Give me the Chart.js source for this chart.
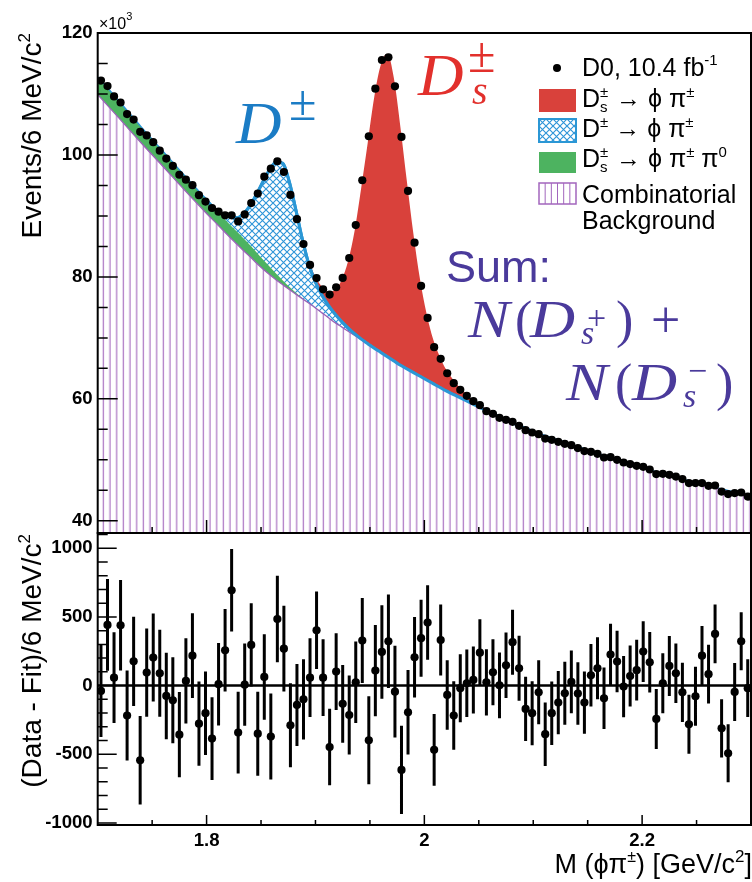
<!DOCTYPE html>
<html>
<head>
<meta charset="utf-8">
<title>M(φπ±) spectrum, D0 10.4 fb-1</title>
<script src="https://cdn.jsdelivr.net/npm/chart.js@4.4.1/dist/chart.umd.min.js"></script>
<style>
  html, body { margin: 0; padding: 0; background: #ffffff; }
  #stage { position: relative; width: 752px; height: 882px; overflow: hidden; }
  #stage canvas { position: absolute; left: 0; top: 0; }
</style>
</head>
<body>
<div id="stage">
  <canvas id="residCanvas" width="752" height="882"></canvas>
  <canvas id="massCanvas" width="752" height="882"></canvas>
</div>
<script>
// ---------------------------------------------------------------------------
// Histogram: bin centres of M(phi pi) in GeV/c^2 (6 MeV bins)
const massBins = [
  1.703,1.709,1.715,1.721,1.727,1.733,1.739,1.745,1.751,1.757,
  1.763,1.769,1.775,1.781,1.787,1.793,1.799,1.805,1.811,1.817,
  1.823,1.829,1.835,1.841,1.847,1.853,1.859,1.865,1.871,1.877,
  1.883,1.889,1.895,1.901,1.907,1.913,1.919,1.925,1.931,1.937,
  1.943,1.949,1.955,1.961,1.967,1.973,1.979,1.985,1.991,1.997,
  2.003,2.009,2.015,2.021,2.027,2.033,2.039,2.045,2.051,2.057,
  2.063,2.069,2.075,2.081,2.087,2.093,2.099,2.105,2.111,2.117,
  2.123,2.129,2.135,2.141,2.147,2.153,2.159,2.165,2.171,2.177,
  2.183,2.189,2.195,2.201,2.207,2.213,2.219,2.225,2.231,2.237,
  2.243,2.249,2.255,2.261,2.267,2.273,2.279,2.285,2.291,2.297
];

// Events per 6 MeV/c^2, in units of 10^3
const eventsK = [
  112.2,111.3,109.6,108.6,106.7,105.8,103.8,103.2,102.1,100.7,
  99.4,98.2,96.75,95.95,95.05,93.4,92.35,91.3,90.7,90.1,
  90.1,89.1,90.25,92.1,93.66,96.44,97.75,98.97,97.2,93.44,
  89.46,85.4,81.97,79.8,77.97,77.1,78.3,79.84,83.1,88.5,
  95.85,103.07,110.87,115.57,116.02,111.26,102.95,94.1,85.62,78.52,
  73.28,68.48,66.56,64.2,62.57,61.48,60.5,59.62,58.97,57.98,
  57.54,56.89,56.56,56.23,55.57,54.87,54.48,54.21,53.49,53.28,
  52.95,52.62,52.41,51.92,51.43,51.31,50.98,50.38,50.44,50.0,
  49.56,49.3,49.02,48.85,48.41,47.66,47.7,47.54,47.26,46.84,
  46.18,46.18,46.18,45.74,45.79,44.8,44.38,44.54,44.64,43.98
];

// Data - Fit per bin (events per 6 MeV/c^2)
const residuals = [
  -39,442,58,439,-218,177,-544,95,204,90,
  -75,-107,-357,34,218,-277,-201,-386,10,257,
  694,-342,7,296,-350,63,-371,485,269,-289,
  -141,-100,58,403,58,-447,102,-133,-214,24,
  328,-398,109,245,323,-44,-614,-194,206,345,
  459,-468,332,-68,-218,-19,17,41,240,24,
  97,2,148,316,126,-170,-201,-49,-354,-201,
  -124,-56,27,-58,-124,75,126,-92,226,175,
  -7,70,112,248,170,-243,17,143,90,-49,
  -282,-78,218,83,376,-311,-493,-46,323,-19
];

// Statistical uncertainty of each residual
const residualErrors = [
  335,334,331,330,327,325,322,321,320,317,
  315,313,311,310,308,306,304,302,301,300,
  300,298,300,303,306,311,313,315,312,306,
  299,292,286,282,279,278,280,283,288,297,
  310,321,333,340,341,334,321,307,293,280,
  271,262,258,253,250,248,246,244,243,241,
  240,239,238,237,236,234,233,233,231,231,
  230,229,229,228,227,227,226,224,225,224,
  223,222,221,221,220,218,218,218,217,216,
  215,215,215,214,214,212,211,211,211,210
];

// ---------------------------------------------------------------------------
// Fit components sampled along the mass axis (units of 10^3 events / 6 MeV)
const fitMass = [
  1.700,1.720,1.740,1.760,1.780,1.800,1.810,1.820,1.828,1.834,
  1.840,1.846,1.852,1.858,1.864,1.870,1.876,1.882,1.888,1.894,
  1.900,1.906,1.912,1.918,1.924,1.930,1.936,1.942,1.948,1.954,
  1.960,1.966,1.972,1.978,1.984,1.990,1.996,2.002,2.008,2.014,
  2.020,2.028,2.036,2.046,2.060,2.075,2.100,2.125,2.150,2.175,
  2.200,2.225,2.250,2.275,2.300
];
const combBkg = [
  109.9,105.95,101.95,98.1,94.2,90.4,88.6,86.75,85.35,84.3,
  83.3,82.25,81.25,80.35,79.5,78.72,77.93,77.15,76.43,75.67,
  74.9,74.1,73.3,72.5,71.8,71.1,70.4,69.7,69.0,68.3,
  67.6,66.9,66.2,65.5,64.9,64.3,63.7,63.1,62.5,61.9,
  61.3,60.6,59.9,59.0,57.8,56.5,54.6,53.0,51.5,50.0,
  48.6,47.3,46.1,45.0,43.9
];
const dsPhiPiPi0 = [
  2.8,2.6,2.45,2.3,2.2,2.15,2.1,2.1,2.05,2.0,
  1.9,1.75,1.55,1.3,1.0,0.7,0.45,0.25,0.12,0.05,
  0.02,0,0,0,0,0,0,0,0,0,
  0,0,0,0,0,0,0,0,0,0,
  0,0,0,0,0,0,0,0,0,0,
  0,0,0,0,0
];
const dPhiPi = [
  0,0,0,0,0,0,0.05,1.05,2.3,4.1,
  6.5,9.6,12.9,15.95,18.35,19.2,17.2,13.6,9.6,6.3,
  4.2,2.9,2.0,1.4,0.9,0.5,0.25,0.1,0.05,0,
  0,0,0,0,0,0,0,0,0,0,
  0,0,0,0,0,0,0,0,0,0,
  0,0,0,0,0
];
const dsPhiPi = [
  0,0,0,0,0,0,0,0,0,0,
  0,0,0,0,0.05,0.05,0.1,0.2,0.35,0.6,
  0.9,1.4,2.3,3.9,6.8,11.0,16.95,24.8,32.95,41.2,
  47.2,49.7,46.4,39.1,30.7,22.7,15.9,10.9,7.3,5.1,
  3.5,2.2,1.3,0.6,0.3,0.15,0.05,0,0,0,
  0,0,0,0,0
];

// Axis tick labels
const massTicks = [40, 60, 80, 100, 120];
const residTicks = [-1000, -500, 0, 500, 1000];
const xLabelTicks = [1.8, 2.0, 2.2];

// ---------------------------------------------------------------------------
const SANS = '"Liberation Sans", Arial, Helvetica, sans-serif';
const SERIF = '"Liberation Serif", "Times New Roman", serif';
const COL = {
  ds: '#d9413b', dHatch: '#2f95d8', dLine: '#2b97d5', pi0: '#4db360',
  comb: '#a266bd', combLine: '#9c62b8', dsText: '#e2302c', dText: '#1b7cc5', sum: '#4a3a9b'
};
const TICK_FONT = { family: SANS, size: 18.6, weight: 'bold' };

// stacked upper edges of the fit components
function stackEdge(...parts) {
  return fitMass.map((m, i) => ({ x: m, y: parts.reduce((s, p) => s + p[i], 0) }));
}
const edgeComb = stackEdge(combBkg);
const edgePi0 = stackEdge(combBkg, dsPhiPiPi0);
const edgeD = stackEdge(combBkg, dsPhiPiPi0, dPhiPi);
const edgeTotal = stackEdge(combBkg, dsPhiPiPi0, dPhiPi, dsPhiPi);
// the D outline sits above the other bands from the D onset onwards
const edgeDUpper = edgeD.filter(p => p.x >= 1.8 && p.x <= 2.1);

// fill patterns
function crossHatch(ctx) {
  const t = document.createElement('canvas'); t.width = 7; t.height = 7;
  const g = t.getContext('2d');
  g.fillStyle = '#ffffff'; g.fillRect(0, 0, 7, 7);
  g.strokeStyle = COL.dHatch; g.lineWidth = 1.15;
  g.beginPath(); g.moveTo(-1, -1); g.lineTo(8, 8); g.moveTo(8, -1); g.lineTo(-1, 8); g.stroke();
  return ctx.createPattern(t, 'repeat');
}
function verticalHatch(ctx) {
  const t = document.createElement('canvas'); t.width = 20; t.height = 4;
  const g = t.getContext('2d');
  g.fillStyle = '#ffffff'; g.fillRect(0, 0, 20, 4);
  g.fillStyle = COL.comb;
  [0, 6.67, 13.33].forEach(x => g.fillRect(x, 0, 1.1, 4));
  const p = ctx.createPattern(t, 'repeat');
  if (p.setTransform) p.setTransform(new DOMMatrix([1, 0, 0, 1, 2.7, 0]));
  return p;
}

// text made of pieces with their own font and vertical shift
function drawRich(ctx, parts, x, y, align, color) {
  ctx.textAlign = 'left'; ctx.textBaseline = 'alphabetic';
  const w = parts.map(p => { ctx.font = p.f; return p.adv !== undefined ? p.adv : ctx.measureText(p.t).width; });
  const total = w.reduce((a, b) => a + b, 0);
  let cx = align === 'right' ? x - total : x;
  ctx.fillStyle = color || '#000';
  parts.forEach((p, i) => { ctx.font = p.f; ctx.fillText(p.t, cx, y + (p.dy || 0)); cx += w[i]; });
}
function text(ctx, t, x, y, f, color, sx) {
  ctx.save();
  ctx.font = f; ctx.fillStyle = color; ctx.textAlign = 'left'; ctx.textBaseline = 'alphabetic';
  ctx.translate(x, y); ctx.scale(sx || 1, 1);
  ctx.fillText(t, 0, 0);
  ctx.restore();
}

function drawInsideTicks(ctx, a, xs, ys, yMajor, yMinor, xMajorLen, xMinorLen) {
  ctx.strokeStyle = '#000'; ctx.lineWidth = 1.5; ctx.beginPath();
  ys.list.forEach(v => {
    const py = ys.scale.getPixelForValue(v);
    const len = ys.isMajor(v) ? yMajor : yMinor;
    ctx.moveTo(a.left, py); ctx.lineTo(a.left + len, py);
  });
  for (let k = 35; k <= 45; k++) {
    const v = k / 20;
    const px = xs.getPixelForValue(v);
    const len = (k % 4 === 0) ? xMajorLen : xMinorLen;
    ctx.moveTo(px, a.bottom); ctx.lineTo(px, a.bottom - len);
  }
  ctx.stroke();
}

// ---------------------------------------------------------------------------
const massCanvas = document.getElementById('massCanvas');
const mctx = massCanvas.getContext('2d');

const massDecor = {
  id: 'massDecor',
  afterDraw(chart) {
    const { ctx, chartArea: a, scales: { x, y } } = chart;
    ctx.save();
    const yl = []; for (let v = 40; v <= 120; v += 5) yl.push(v);
    drawInsideTicks(ctx, a, x, { scale: y, list: yl, isMajor: v => v % 20 === 0 }, 20, 10, 13, 6);
    ctx.lineWidth = 2; ctx.strokeStyle = '#000';
    ctx.strokeRect(a.left, a.top, a.right - a.left, a.bottom - a.top);

    // axis multiplier and title
    drawRich(ctx, [{ t: '×10', f: `16px ${SANS}` }, { t: '3', f: `11px ${SANS}`, dy: -9 }], 99, 29, 'left');
    ctx.save(); ctx.translate(41, a.top); ctx.rotate(-Math.PI / 2);
    drawRich(ctx, [{ t: 'Events/6 MeV/c', f: `28px ${SANS}` }, { t: '2', f: `17px ${SANS}`, dy: -11 }], 0, 0, 'right');
    ctx.restore();

    // peak labels
    text(ctx, 'D', 236, 143, `italic 60px ${SERIF}`, COL.dText, 1.05);
    text(ctx, '±', 289, 120, `50px ${SERIF}`, COL.dText);
    text(ctx, 'D', 418, 95, `italic 60px ${SERIF}`, COL.dsText, 1.05);
    text(ctx, '±', 468, 72, `50px ${SERIF}`, COL.dsText);
    text(ctx, 's', 472, 104, `italic 40px ${SERIF}`, COL.dsText);

    text(ctx, 'Sum:', 446, 282, `45px ${SANS}`, COL.sum);
    const MI = `italic 52px ${SERIF}`, MR = `52px ${SERIF}`, SI = `italic 34px ${SERIF}`, SR = `34px ${SERIF}`;
    text(ctx, 'N', 468, 337, MI, COL.sum, 1.2);
    text(ctx, '(', 515, 337, MR, COL.sum);
    text(ctx, 'D', 530, 337, MI, COL.sum, 1.2);
    text(ctx, '+', 587, 329, SR, COL.sum);
    text(ctx, 's', 581, 344, SI, COL.sum);
    text(ctx, ')', 616, 337, MR, COL.sum);
    text(ctx, '+', 651, 337, MR, COL.sum);
    text(ctx, 'N', 566, 400, MI, COL.sum, 1.2);
    text(ctx, '(', 615, 400, MR, COL.sum);
    text(ctx, 'D', 632, 400, MI, COL.sum, 1.2);
    text(ctx, '−', 688, 382, SR, COL.sum);
    text(ctx, 's', 683, 407, SI, COL.sum);
    text(ctx, ')', 716, 400, MR, COL.sum);

    // legend
    const F = `25px ${SANS}`, FS = `15px ${SANS}`;
    const tx = 582;
    ctx.fillStyle = '#000';
    ctx.beginPath(); ctx.arc(557, 68, 4, 0, Math.PI * 2); ctx.fill();
    drawRich(ctx, [{ t: 'D0, 10.4 fb', f: F }, { t: '-1', f: FS, dy: -11 }], tx, 76, 'left');

    ctx.fillStyle = COL.ds; ctx.fillRect(539, 89, 37, 23);
    drawRich(ctx, [{ t: 'D', f: F }, { t: '±', f: FS, dy: -10, adv: 0 }, { t: 's', f: FS, dy: 5, adv: 9 },
      { t: ' → ϕ π', f: F }, { t: '±', f: FS, dy: -10 }], tx, 107, 'left');

    ctx.fillStyle = crossHatch(ctx); ctx.fillRect(539, 119, 37, 23);
    ctx.strokeStyle = COL.dLine; ctx.lineWidth = 2; ctx.strokeRect(539, 119, 37, 23);
    drawRich(ctx, [{ t: 'D', f: F }, { t: '±', f: FS, dy: -10 }, { t: ' → ϕ π', f: F }, { t: '±', f: FS, dy: -10 }], tx, 137, 'left');

    ctx.fillStyle = COL.pi0; ctx.fillRect(539, 152, 37, 21);
    drawRich(ctx, [{ t: 'D', f: F }, { t: '±', f: FS, dy: -10, adv: 0 }, { t: 's', f: FS, dy: 5, adv: 9 },
      { t: ' → ϕ π', f: F }, { t: '±', f: FS, dy: -10 }, { t: ' π', f: F }, { t: '0', f: FS, dy: -10 }], tx, 167, 'left');

    ctx.fillStyle = '#fff'; ctx.fillRect(539, 183, 37, 21);
    ctx.strokeStyle = COL.comb; ctx.lineWidth = 1;
    ctx.beginPath();
    for (let k = 1; k < 6; k++) { const lx = 539 + k * 6.17; ctx.moveTo(lx, 183); ctx.lineTo(lx, 204); }
    ctx.stroke();
    ctx.lineWidth = 1.5; ctx.strokeRect(539, 183, 37, 21);
    text(ctx, 'Combinatorial', tx, 203, F, '#000');
    text(ctx, 'Background', tx, 229, F, '#000');
    ctx.restore();
  }
};

const clear = 'rgba(0,0,0,0)';
const curve = { pointRadius: 0, cubicInterpolationMode: 'monotone' };

// drawing order: larger "order" is painted first
new Chart(massCanvas, {
  type: 'line',
  data: {
    datasets: [
      { label: 'D0, 10.4 fb-1', data: massBins.map((m, i) => ({ x: m, y: eventsK[i] })),
        showLine: false, pointRadius: 4.1, pointBackgroundColor: '#000', pointBorderWidth: 0, order: 0 },
      Object.assign({ label: 'D outline (upper)', data: edgeDUpper, fill: false, borderColor: COL.dLine, borderWidth: 3, order: 1 }, curve),
      Object.assign({ label: 'Combinatorial Background', data: edgeComb, fill: 'start', backgroundColor: verticalHatch(mctx),
        borderColor: COL.combLine, borderWidth: 1.3, order: 2 }, curve),
      Object.assign({ label: 'Ds -> phi pi pi0', data: edgePi0, fill: 'start', backgroundColor: COL.pi0,
        borderColor: clear, borderWidth: 1, order: 3 }, curve),
      Object.assign({ label: 'D outline', data: edgeD, fill: false, borderColor: COL.dLine, borderWidth: 3, order: 4 }, curve),
      Object.assign({ label: 'D -> phi pi', data: edgeD, fill: 'start', backgroundColor: crossHatch(mctx),
        borderColor: clear, borderWidth: 1, order: 5 }, curve),
      Object.assign({ label: 'Ds -> phi pi', data: edgeTotal, fill: 'start', backgroundColor: COL.ds,
        borderColor: clear, borderWidth: 1, order: 6 }, curve)
    ]
  },
  options: {
    responsive: false, animation: false, devicePixelRatio: 1, events: [],
    layout: { autoPadding: false, padding: { left: 0, right: 1, top: 33, bottom: 349 } },
    plugins: { legend: { display: false }, tooltip: { enabled: false }, filler: { propagate: false } },
    scales: {
      x: { type: 'linear', min: 1.7, max: 2.3, display: false },
      y: {
        type: 'linear', min: 38, max: 120,
        afterFit: s => { s.width = 97.7; },
        afterBuildTicks: s => { s.ticks = massTicks.map(v => ({ value: v })); },
        grid: { display: false, drawTicks: false }, border: { display: false },
        ticks: { font: TICK_FONT, color: '#000', padding: 5, callback: v => String(v) }
      }
    }
  },
  plugins: [massDecor]
});

// ---------------------------------------------------------------------------
const residCanvas = document.getElementById('residCanvas');

const residDecor = {
  id: 'residDecor',
  afterDatasetsDraw(chart) {
    const { ctx, scales: { y } } = chart;
    const meta = chart.getDatasetMeta(0);
    ctx.save();
    ctx.strokeStyle = '#000'; ctx.lineWidth = 3; ctx.beginPath();
    meta.data.forEach((pt, i) => {
      ctx.moveTo(pt.x, y.getPixelForValue(residuals[i] - residualErrors[i]));
      ctx.lineTo(pt.x, y.getPixelForValue(residuals[i] + residualErrors[i]));
    });
    ctx.stroke();
    ctx.restore();
  },
  afterDraw(chart) {
    const { ctx, chartArea: a, scales: { x, y } } = chart;
    ctx.save();
    const yl = []; for (let v = -1000; v <= 1100; v += 100) yl.push(v);
    drawInsideTicks(ctx, a, x, { scale: y, list: yl, isMajor: v => v % 500 === 0 }, 19, 10, 10, 5);
    ctx.lineWidth = 2; ctx.strokeStyle = '#000';
    ctx.strokeRect(a.left, a.top, a.right - a.left, a.bottom - a.top);

    ctx.save(); ctx.translate(41, a.top + 1); ctx.rotate(-Math.PI / 2);
    drawRich(ctx, [{ t: '(Data - Fit)/6 MeV/c', f: `28px ${SANS}` }, { t: '2', f: `17px ${SANS}`, dy: -11 }], 0, 0, 'right');
    ctx.restore();

    drawRich(ctx, [{ t: 'M (ϕπ', f: `27px ${SANS}` }, { t: '±', f: `16px ${SANS}`, dy: -11 },
      { t: ') [GeV/c', f: `27px ${SANS}` }, { t: '2', f: `17px ${SANS}`, dy: -11 }, { t: ']', f: `27px ${SANS}` }],
      752, 873, 'right');
    ctx.restore();
  }
};

new Chart(residCanvas, {
  type: 'line',
  data: {
    datasets: [
      { label: 'Data - Fit', data: massBins.map((m, i) => ({ x: m, y: residuals[i] })),
        showLine: false, pointRadius: 4.1, pointBackgroundColor: '#000', pointBorderWidth: 0, order: 0 },
      { label: 'zero', data: [{ x: 1.7, y: 0 }, { x: 2.3, y: 0 }], borderColor: '#000', borderWidth: 2.5,
        pointRadius: 0, fill: false, order: 1 }
    ]
  },
  options: {
    responsive: false, animation: false, devicePixelRatio: 1, events: [],
    layout: { autoPadding: false, padding: { left: 0, right: 1, top: 533, bottom: 0 } },
    plugins: { legend: { display: false }, tooltip: { enabled: false } },
    scales: {
      x: {
        type: 'linear', min: 1.7, max: 2.3,
        afterFit: s => { s.height = 57; },
        afterBuildTicks: s => { s.ticks = xLabelTicks.map(v => ({ value: v })); },
        grid: { display: false, drawTicks: false }, border: { display: false },
        ticks: { font: TICK_FONT, color: '#000', padding: 5, maxRotation: 0, autoSkip: false, callback: v => String(v) }
      },
      y: {
        type: 'linear', min: -1015, max: 1111,
        afterFit: s => { s.width = 97.7; },
        afterBuildTicks: s => { s.ticks = residTicks.map(v => ({ value: v })); },
        grid: { display: false, drawTicks: false }, border: { display: false },
        ticks: { font: TICK_FONT, color: '#000', padding: 5, callback: v => String(v) }
      }
    }
  },
  plugins: [residDecor]
});
</script>
</body>
</html>
